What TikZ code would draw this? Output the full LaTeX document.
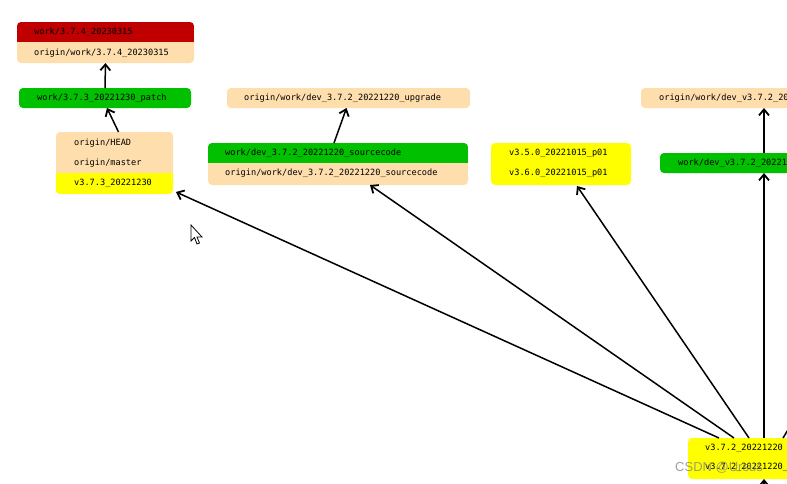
\documentclass[tikz,border=0pt]{standalone}
\usepackage{fontspec}
\setmonofont{DejaVu Sans Mono}
\setsansfont{Liberation Sans}
\usetikzlibrary{arrows.meta,calc}
\definecolor{redc}{HTML}{C00000}
\definecolor{greenc}{HTML}{00C000}
\definecolor{beige}{HTML}{FFDEAD}
\definecolor{yellowc}{HTML}{FFFF00}
\tikzset{
  box/.style={draw=none, rounded corners=4pt, anchor=north west, inner sep=0pt, outer sep=0pt},
  lbl/.style={anchor=west, inner sep=0pt, font=\ttfamily\fontsize{8.6}{10}\selectfont},
  conn/.style={draw=black, line width=1.5pt, -{Straight Barb[length=6pt,width=10pt,line width=1.8pt]}},
}
\begin{document}
\begin{tikzpicture}[x=1pt,y=-1pt]
\useasboundingbox (0,0) rectangle (787,483);
\clip (0,0) rectangle (787,483);
\fill[white] (0,0) rectangle (787,483);

% A: work/3.7.4
\node[box, fill=beige, minimum width=177pt, minimum height=41pt] (A) at (17,22) {};
\begin{scope}
  \clip[rounded corners=4pt] (A.north west) rectangle (A.south east);
  \fill[redc] (A.north west) rectangle ($(A.north east)+(0,20)$);
\end{scope}
\node[lbl] (A1) at (34,32) {work/3.7.4\_20230315};
\node[lbl] (A2) at (34,53) {origin/work/3.7.4\_20230315};

% B: patch
\node[box, fill=greenc, minimum width=172pt, minimum height=20pt] (B) at (19,88) {};
\node[lbl] (B1) at (37,98) {work/3.7.3\_20221230\_patch};

% C: HEAD/master/tag
\node[box, fill=beige, minimum width=117pt, minimum height=62pt] (C) at (56,132) {};
\begin{scope}
  \clip[rounded corners=4pt] (C.north west) rectangle (C.south east);
  \fill[yellowc] ($(C.south west)+(0,-21)$) rectangle (C.south east);
\end{scope}
\node[lbl] (C1) at (74,143) {origin/HEAD};
\node[lbl] (C2) at (74,163) {origin/master};
\node[lbl] (C3) at (74,183) {v3.7.3\_20221230};

% D: upgrade
\node[box, fill=beige, minimum width=243pt, minimum height=20pt] (D) at (227,88) {};
\node[lbl] (D1) at (244,98) {origin/work/dev\_3.7.2\_20221220\_upgrade};

% E: sourcecode
\node[box, fill=beige, minimum width=260pt, minimum height=42pt] (E) at (208,143) {};
\begin{scope}
  \clip[rounded corners=4pt] (E.north west) rectangle (E.south east);
  \fill[greenc] (E.north west) rectangle ($(E.north east)+(0,20)$);
\end{scope}
\node[lbl] (E1) at (225,153) {work/dev\_3.7.2\_20221220\_sourcecode};
\node[lbl] (E2) at (225,173) {origin/work/dev\_3.7.2\_20221220\_sourcecode};

% F: tags
\node[box, fill=yellowc, minimum width=140pt, minimum height=42pt] (F) at (491,143) {};
\node[lbl] (F1) at (509,153) {v3.5.0\_20221015\_p01};
\node[lbl] (F2) at (509,173) {v3.6.0\_20221015\_p01};

% G: origin dev_v3.7.2
\node[box, fill=beige, minimum width=170pt, minimum height=20pt] (G) at (641,88) {};
\node[lbl] (G1) at (659,98) {origin/work/dev\_v3.7.2\_20};

% H: work dev_v3.7.2
\node[box, fill=greenc, minimum width=150pt, minimum height=20pt] (H) at (660,153) {};
\node[lbl] (H1) at (678,163) {work/dev\_v3.7.2\_20221};

% I: bottom tags
\node[box, fill=yellowc, minimum width=130pt, minimum height=41pt] (I) at (688,438) {};
\node[lbl] (I1) at (705,448) {v3.7.2\_20221220};
\node[lbl] (I2) at (705,467) {v3.7.2\_20221220\_};

% off-picture ends
\coordinate (offR) at (800,410);
\coordinate (offB) at (764,540);

% connectors
\draw[conn] (B.north) -- (A.south);
\draw[conn] ([xshift=4pt]C.north) -- ([xshift=2pt]B.south);
\draw[conn] ([xshift=-4pt]E.north) -- ([xshift=-2pt]D.south);
\draw[conn] ($(H.north west)+(104,0)$) -- ($(G.north west)+(123,20)$);
\draw[conn] ($(I.north west)+(31,0)$) -- ($(C.south east)+(3,-2)$);
\draw[conn] ($(I.north west)+(46,0)$) -- ($(E.south)+(32,0)$);
\draw[conn] ($(I.north west)+(61,0)$) -- ($(F.south)+(16,1)$);
\draw[conn] ($(I.north west)+(76,0)$) -- ($(H.south west)+(104,0)$);
\draw[line width=1.5pt] ($(I.north west)+(95,0)$) -- (offR);
\draw[conn] (offB) -- ($(I.south west)+(76,0)$);

% mouse cursor
\filldraw[fill=white, draw=black, line width=0.8pt, line join=miter]
  (191,225) -- (191,241) -- (194.5,237.5) -- (197,244) -- (199.5,243) -- (197,237) -- (202,237) -- cycle;

% watermark
\node[anchor=west, inner sep=0pt, text=gray, opacity=0.75, font=\sffamily\fontsize{13}{14}\selectfont] (wm) at (675,468) {CSDN @Ursus};
\end{tikzpicture}
\end{document}
